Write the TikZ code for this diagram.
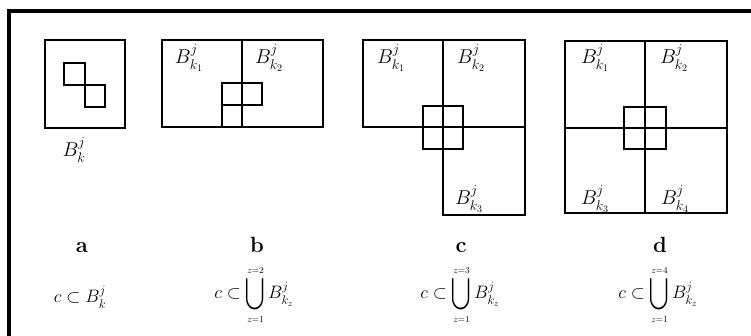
\RequirePackage{fix-cm}
\documentclass[tikz,border=0pt]{standalone}
\usepackage{tikz, xcolor, graphicx}
\usepackage{amsmath}

\newcommand{\tallcup}{\mathop{\vcenter{\hbox{\scalebox{1}[1.3]{$\displaystyle\bigcup$}}}}\limits}

\begin{document}
\begin{tikzpicture}[x=1pt, y=-1pt]
\tikzstyle{cellbox}=[draw=black, line width=1.6pt]
\tikzstyle{blockbox}=[draw=black, line width=2pt]
\tikzstyle{framestyle}=[draw=black, line width=3.5pt]
\tikzstyle{celllabel}=[font=\fontsize{20}{22}\selectfont, inner sep=0pt]
\tikzstyle{panelname}=[font=\fontsize{22}{24}\selectfont\bfseries, inner sep=0pt, anchor=base]
\tikzstyle{formula}=[font=\fontsize{18}{20}\selectfont, inner sep=0pt]

\useasboundingbox (0,0) rectangle (751,336);
\draw[framestyle] (9,336) -- (9,11) -- (751,11);

% a
\draw[cellbox] (45,40) rectangle (125,128);
\draw[blockbox] (64,63) rectangle (85,85);
\draw[blockbox] (85,85) rectangle (105,107);
\node[celllabel] (Ak) at (74,150) {$B_k^j$};
\node[panelname] (Aname) at (82,253) {a};
\node[formula] (Aform) at (80,297) {$c\subset B_k^j$};

% b
\draw[cellbox] (162,40) rectangle (323,127);
\draw[cellbox] (242,40) -- (242,127);
\draw[blockbox] (222,83) rectangle (262,105);
\draw[blockbox] (222,105) -- (222,127);
\node[celllabel] (Bk1) at (189,58) {$B_{k_1}^j$};
\node[celllabel] (Bk2) at (269,58) {$B_{k_2}^j$};
\node[panelname] (Bname) at (257,253) {b};
\node[formula] (Bform) at (254,295) {$c\subset\tallcup_{\scriptscriptstyle z=1}^{\scriptscriptstyle z=2}B_{k_z}^j$};

% c
\draw[cellbox] (363,40) rectangle (443,127);
\draw[cellbox] (443,40) rectangle (525,127);
\draw[cellbox] (443,127) rectangle (525,215);
\draw[blockbox] (423,106) rectangle (463,149);
\node[celllabel] (Ck1) at (391,58) {$B_{k_1}^j$};
\node[celllabel] (Ck2) at (471,58) {$B_{k_2}^j$};
\node[celllabel] (Ck3) at (469,199) {$B_{k_3}^j$};
\node[panelname] (Cname) at (461,253) {c};
\node[formula] (Cform) at (460,295) {$c\subset\tallcup_{\scriptscriptstyle z=1}^{\scriptscriptstyle z=3}B_{k_z}^j$};

% d
\draw[cellbox] (565,41) rectangle (727,213);
\draw[cellbox] (645,41) -- (645,213);
\draw[cellbox] (565,128) -- (727,128);
\draw[blockbox] (624,107) rectangle (666,149);
\node[celllabel] (Dk1) at (595,58) {$B_{k_1}^j$};
\node[celllabel] (Dk2) at (674,58) {$B_{k_2}^j$};
\node[celllabel] (Dk3) at (595,199) {$B_{k_3}^j$};
\node[celllabel] (Dk4) at (675,199) {$B_{k_4}^j$};
\node[panelname] (Dname) at (660,253) {d};
\node[formula] (Dform) at (658,295) {$c\subset\tallcup_{\scriptscriptstyle z=1}^{\scriptscriptstyle z=4}B_{k_z}^j$};
\end{tikzpicture}
\end{document}
